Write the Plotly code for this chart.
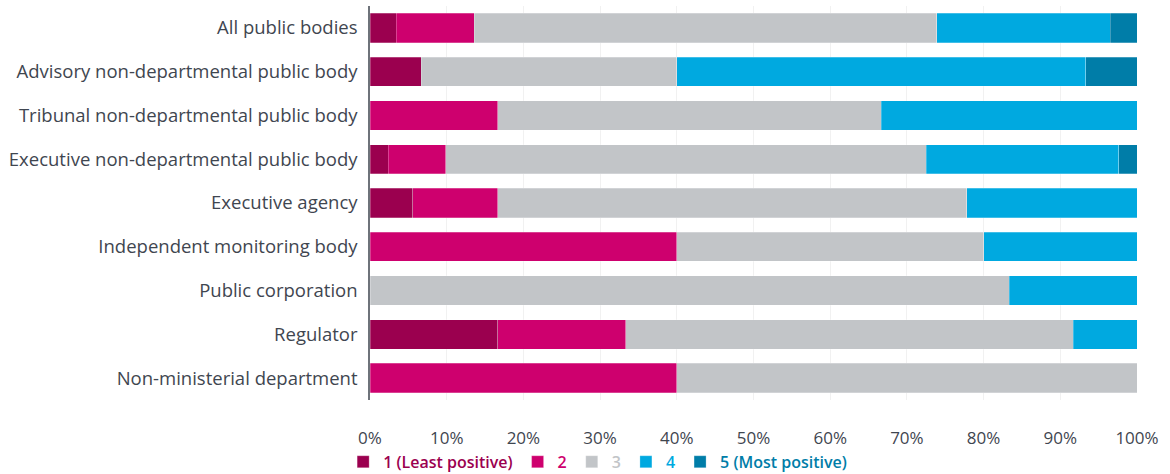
import plotly.graph_objects as go

# Share of responses (%) per body type, rating 1 (least positive) to 5 (most positive)
bodies = [
    "All public bodies",
    "Advisory non-departmental public body",
    "Tribunal non-departmental public body",
    "Executive non-departmental public body",
    "Executive agency",
    "Independent monitoring body",
    "Public corporation",
    "Regulator",
    "Non-ministerial department",
]

rating_1 = [3.4, 6.67, 0, 2.4, 5.56, 0, 0, 16.67, 0]
rating_2 = [10.2, 0, 16.67, 7.5, 11.11, 40, 0, 16.67, 40]
rating_3 = [60.3, 33.33, 50, 62.6, 61.11, 40, 83.33, 58.33, 60]
rating_4 = [22.6, 53.33, 33.33, 25.1, 22.22, 20, 16.67, 8.33, 0]
rating_5 = [3.5, 6.67, 0, 2.4, 0, 0, 0, 0, 0]

series_names = ["1 (Least positive)", "2", "3", "4", "5 (Most positive)"]
series_values = [rating_1, rating_2, rating_3, rating_4, rating_5]
colours = ["#9B004F", "#CE006E", "#C2C5C8", "#00A9E0", "#007DA8"]

x_ticks = list(range(0, 101, 10))

fig = go.Figure()

for name, vals, col in zip(series_names, series_values, colours):
    fig.add_trace(
        go.Bar(
            y=bodies,
            x=vals,
            orientation="h",
            name=f"<span style='color:{col}'>{name}</span>",
            marker=dict(color=col, line=dict(color="rgba(255,255,255,0.5)", width=0.5)),
            hovertemplate="%{y}: %{x:.1f}%<extra></extra>",
        )
    )

fig.update_layout(
    barmode="stack",
    bargap=0.33,
    width=1170,
    height=474,
    margin=dict(l=370, r=33, t=6, b=74, autoexpand=False),
    paper_bgcolor="white",
    plot_bgcolor="white",
    font=dict(family="Open Sans", size=16, color="#3F4650"),
    showlegend=True,
    legend=dict(
        orientation="h",
        x=-0.035,
        xanchor="left",
        y=-0.157,
        yanchor="middle",
        font=dict(size=16, weight=600),
        itemwidth=30,
        tracegroupgap=0,
        traceorder="normal",
    ),
)

fig.update_yaxes(
    autorange="reversed",
    automargin=False,
    showline=True,
    linecolor="#6E737A",
    linewidth=1.5,
    showgrid=False,
    ticks="",
    ticklabelstandoff=7,
    tickfont=dict(size=18.5, color="#3F4650"),
)

fig.update_xaxes(
    range=[0, 100],
    automargin=False,
    tickvals=x_ticks,
    ticktext=[f"{v}%" for v in x_ticks],
    showgrid=True,
    gridcolor="#F1F1F1",
    gridwidth=1,
    zeroline=False,
    showline=False,
    ticks="",
    ticklabelstandoff=26,
    tickfont=dict(size=17, color="#3F4650"),
)

# the page's default body margin would shift the chart by 8px
fig.write_html(
    "out.html",
    config={"displayModeBar": False},
    post_script="document.body.style.margin='0';document.body.style.overflow='hidden';",
)
